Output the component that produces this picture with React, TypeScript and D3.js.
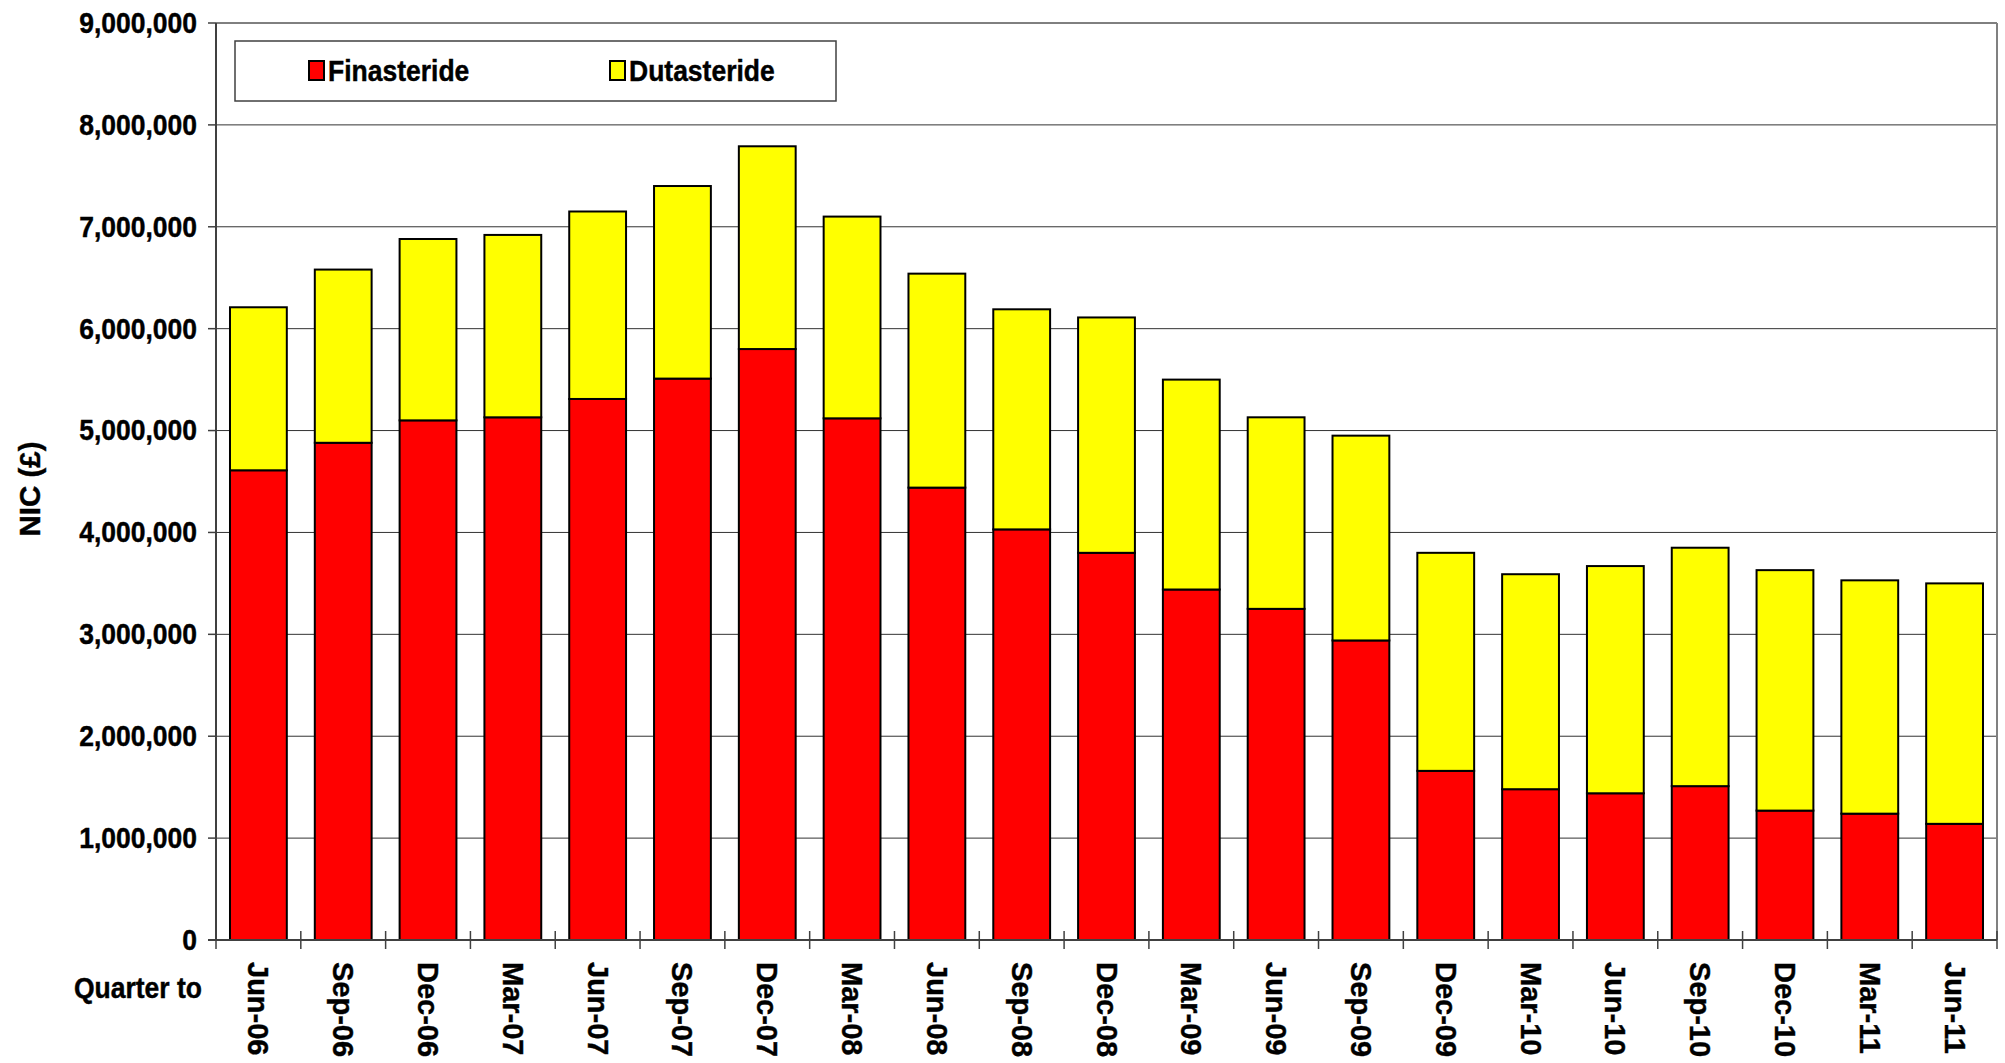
import React from "react";
import * as d3 from "d3";

const categories = ["Jun-06","Sep-06","Dec-06","Mar-07","Jun-07","Sep-07","Dec-07","Mar-08","Jun-08","Sep-08","Dec-08","Mar-09","Jun-09","Sep-09","Dec-09","Mar-10","Jun-10","Sep-10","Dec-10","Mar-11","Jun-11"];
const finasteride = [4610000,4880000,5100000,5130000,5310000,5510000,5800000,5120000,4440000,4030000,3800000,3440000,3250000,2940000,1660000,1480000,1440000,1510000,1270000,1240000,1140000];
const dutasteride = [1600000,1700000,1780000,1790000,1840000,1890000,1990000,1980000,2100000,2160000,2310000,2060000,1880000,2010000,2140000,2110000,2230000,2340000,2360000,2290000,2360000];
const yTicks = [0,1000000,2000000,3000000,4000000,5000000,6000000,7000000,8000000,9000000];
const seriesNames = ["Finasteride","Dutasteride"];
const seriesColors = ["#FF0000","#FFFF00"];

const W = 2005, H = 1063;
const L = 216, R = 1997, T = 23, B = 940;
const FONT = "'Liberation Sans', Arial, sans-serif";
const FS = 26.5;
const SY = 1.1;
const FSR = 29;

export default function App() {
  const x = d3.scaleBand<string>().domain(categories).range([L, R]).paddingInner(0.33).paddingOuter(0.165);
  const y = d3.scaleLinear().domain([0, 9000000]).range([B, T]);
  const fmt = d3.format(",");
  const stack = d3.stack<any>().keys(["f","d"])(categories.map((c, i) => ({ c, f: finasteride[i], d: dutasteride[i] })));
  const step = x.step();
  const bounds = d3.range(categories.length + 1).map(i => L + i * step);
  const txt = { fill: "#000", stroke: "#000", strokeWidth: 0.4 };

  return (
    <svg width={W} height={H} style={{ position: "absolute", left: 0, top: 0, display: "block", background: "#fff" }} fontFamily={FONT} fontWeight="bold">
      {yTicks.filter(t => t > 0).map(t => (
        <line key={"g" + t} x1={L} x2={R} y1={y(t)} y2={y(t)} stroke={t === 9000000 ? "#000" : "#333"} strokeWidth={1} />
      ))}
      <line x1={R} x2={R} y1={T} y2={B} stroke="#808080" strokeWidth={2} />
      {stack.map((s, si) => s.map((d, i) => (
        <rect key={si + "-" + i} x={x(categories[i])} width={x.bandwidth()} y={y(d[1])} height={y(d[0]) - y(d[1])}
          fill={seriesColors[si]} stroke="#000" strokeWidth={2} />
      )))}
      <line x1={L} x2={L} y1={T} y2={B} stroke="#404040" strokeWidth={2} />
      <line x1={L - 8} x2={R} y1={B} y2={B} stroke="#404040" strokeWidth={2} />
      {yTicks.map(t => (
        <g key={"t" + t}>
          <line x1={L - 8} x2={L} y1={y(t)} y2={y(t)} stroke="#404040" strokeWidth={1.5} />
          <text transform={`translate(197,${y(t)}) scale(1,${SY})`} textAnchor="end" dominantBaseline="central" fontSize={FS} {...txt}>{fmt(t)}</text>
        </g>
      ))}
      {bounds.map((b, i) => (
        <line key={"xt" + i} x1={b} x2={b} y1={B - 9} y2={B + 9} stroke="#404040" strokeWidth={1.5} />
      ))}
      {categories.map(c => {
        const cx = (x(c) as number) + x.bandwidth() / 2;
        return (
          <text key={"xl" + c} transform={`translate(${cx},${962}) rotate(90)`} textAnchor="start" dominantBaseline="central" fontSize={FSR} {...txt}>{c}</text>
        );
      })}
      <text transform={`translate(202,998) scale(1,${SY})`} textAnchor="end" fontSize={FS} {...txt}>Quarter to</text>
      <text transform={`translate(29,489) rotate(-90)`} textAnchor="middle" dominantBaseline="central" fontSize={29.5} {...txt}>NIC (£)</text>
      <rect x={235} y={41} width={601} height={60} fill="#fff" stroke="#404040" strokeWidth={1.5} />
      {seriesNames.map((n, i) => {
        const lx = i === 0 ? 309 : 610;
        return (
          <g key={"lg" + n}>
            <rect x={lx} y={61} width={15} height={19} fill={seriesColors[i]} stroke="#000" strokeWidth={2} />
            <text transform={`translate(${lx + 19},71) scale(1,${SY})`} dominantBaseline="central" fontSize={FS} {...txt}>{n}</text>
          </g>
        );
      })}
    </svg>
  );
}
